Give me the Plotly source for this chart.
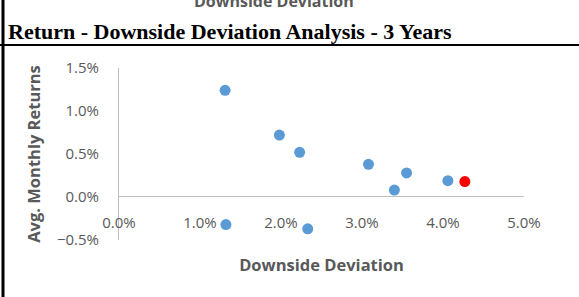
import plotly.graph_objects as go

# Data
downside_dev = [0.0131, 0.0198, 0.0223, 0.0132, 0.0233, 0.0308, 0.0355, 0.0340, 0.0406]
avg_returns = [0.0124, 0.0072, 0.0052, -0.0032, -0.0037, 0.0038, 0.0028, 0.0008, 0.0019]
highlight_dev = [0.0427]
highlight_ret = [0.0018]

x_ticks = [0, 0.01, 0.02, 0.03, 0.04, 0.05]
y_ticks = [-0.005, 0, 0.005, 0.010, 0.015]

W, H = 579, 297
L, R, T, B = 119, 524, 68, 240  # plot area in pixels

def px_x(p):
    return (p - L) / (R - L)

def px_y(p):
    return (B - p) / (B - T)

GRAY = "#595959"
AXIS = "#bfbfbf"
FONT = "Open Sans"

fig = go.Figure()
fig.add_trace(go.Scatter(x=downside_dev, y=avg_returns, mode="markers",
                         marker=dict(color="#5B9BD5", size=11), showlegend=False))
fig.add_trace(go.Scatter(x=highlight_dev, y=highlight_ret, mode="markers",
                         marker=dict(color="#FF0000", size=11), showlegend=False))

fig.update_layout(
    width=W, height=H,
    margin=dict(l=L, r=W - R, t=T, b=H - B),
    plot_bgcolor="white", paper_bgcolor="white",
    title=dict(text="<b>Return - Downside Deviation Analysis - 3 Years</b>",
               x=8 / W, xanchor="left", y=1 - 31 / H, yanchor="middle",
               font=dict(family="Liberation Serif", size=22, color="black")),
    xaxis=dict(range=[0, 0.05], tickvals=x_ticks, tickformat=".1%",
               anchor="free", position=px_y(196),
               showline=True, linecolor=AXIS, linewidth=1,
               showgrid=False, zeroline=False, ticks="",
               ticklabelstandoff=13,
               tickfont=dict(family=FONT, size=15, color=GRAY),
               title=dict(text="<b>Downside Deviation</b>", standoff=28,
                          font=dict(family=FONT, size=16.5, color=GRAY))),
    yaxis=dict(range=[-0.005, 0.015], tickvals=y_ticks, tickformat=".1%",
               showline=True, linecolor=AXIS, linewidth=1,
               showgrid=False, zeroline=False, ticks="",
               ticklabelstandoff=16,
               tickfont=dict(family=FONT, size=15, color=GRAY),
               title=dict(text="<b>Avg. Monthly Returns</b>", standoff=12,
                          font=dict(family=FONT, size=16.5, color=GRAY))),
    shapes=[
        dict(type="line", xref="paper", yref="paper",
             x0=px_x(0), x1=px_x(W), y0=px_y(45), y1=px_y(45),
             line=dict(color="black", width=2)),
        dict(type="line", xref="paper", yref="paper",
             x0=px_x(3), x1=px_x(3), y0=px_y(0), y1=px_y(H),
             line=dict(color="black", width=3)),
    ],
    annotations=[
        dict(text="<b>Downside Deviation</b>", xref="paper", yref="paper",
             x=px_x(274), y=px_y(1), xanchor="center", yanchor="middle",
             showarrow=False, font=dict(family=FONT, size=16, color=GRAY)),
    ],
)

fig.write_html("out.html", config={"displayModeBar": False},
               post_script="document.body.style.margin='0';")
